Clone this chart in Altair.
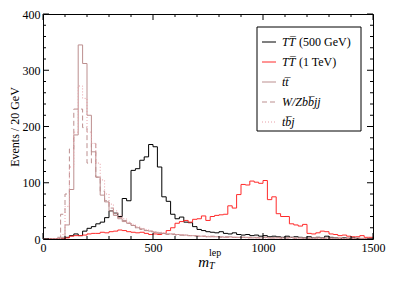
import altair as alt
import pandas as pd

# ---- data (20 GeV bins, left edges 0..1480) ----
bin_edges = list(range(0, 1500, 20))

tt500 = [0, 0, 0, 0, 0, 3, 6, 9, 6, 14, 19, 22, 27, 30, 38,
         50, 46, 40, 72, 68, 122, 125, 140, 146, 168, 164, 128, 75, 67, 44,
         36, 39, 30, 29, 22, 17, 15, 13, 12, 11, 13, 10, 9, 11, 8,
         7, 8, 6, 7, 5, 6, 4, 5, 4, 3, 5, 3, 4, 3, 2,
         4, 2, 3, 2, 5, 3, 2, 1, 2, 1, 2, 1, 1, 1, 1]

tt1tev = [0, 0, 0, 0, 0, 2, 5, 6, 6, 7, 9, 10, 10, 12, 11,
          13, 14, 16, 15, 13, 12, 11, 12, 10, 8, 9, 8, 10, 15, 20,
          28, 31, 33, 30, 35, 36, 41, 33, 40, 42, 43, 44, 59, 55, 79,
          97, 96, 103, 101, 99, 104, 70, 75, 45, 40, 40, 27, 25, 23, 26,
          10, 9, 11, 14, 13, 9, 8, 6, 7, 5, 4, 4, 6, 3, 3]

ttbar = [0, 0, 0, 0, 3, 25, 88, 185, 345, 312, 220, 155, 110, 78, 66,
         50, 42, 36, 31, 28, 24, 20, 18, 15, 14, 12, 11, 10, 9, 9,
         8, 7, 7, 6, 6, 5, 5, 4, 5, 4, 4, 3, 4, 3, 3,
         3, 3, 2, 3, 2, 3, 2, 2, 3, 2, 2, 3, 2, 2, 2,
         2, 2, 3, 2, 2, 1, 2, 2, 1, 2, 1, 2, 1, 1, 1]

wzbbjj = [0, 0, 0, 3, 44, 80, 160, 231, 231, 198, 135, 170, 110, 85, 68,
          55, 45, 38, 33, 28, 24, 20, 17, 15, 13, 12, 10, 9, 8, 8,
          7, 7, 6, 6, 5, 5, 5, 4, 4, 4, 3, 4, 3, 3, 3,
          3, 2, 3, 2, 2, 3, 2, 2, 2, 1, 2, 2, 1, 2, 1,
          1, 2, 1, 1, 1, 2, 1, 1, 1, 1, 1, 0, 1, 1, 0]

tbj = [0, 0, 0, 0, 8, 58, 128, 190, 272, 250, 190, 170, 135, 105, 80,
       62, 50, 42, 36, 30, 26, 22, 19, 17, 15, 13, 12, 11, 10, 9,
       8, 8, 7, 6, 6, 5, 5, 5, 4, 4, 4, 3, 3, 3, 3,
       3, 2, 3, 2, 2, 2, 2, 2, 1, 2, 1, 2, 1, 1, 1,
       1, 1, 1, 1, 1, 1, 0, 1, 1, 0, 1, 0, 0, 1, 0]

x_major = [0, 500, 1000, 1500]
x_minor = [v for v in range(0, 1501, 100) if v % 500]
y_major = [0, 100, 200, 300, 400]
y_minor = [v for v in range(0, 401, 20) if v % 100]

legend_italic = ["TT\u0305", "TT\u0305", "tt\u0305", "W/Zbb\u0305jj", "tb\u0305j"]
legend_roman = ["(500 GeV)", "(1 TeV)", "", "", ""]

# ---- styles ----
W, H = 330, 225
FONT = "Liberation Serif"
BROWN = "#bc8f8f"
series_style = [
    (tt500, "#000000", None),
    (tt1tev, "#ff2a2a", None),
    (ttbar, BROWN, None),
    (wzbbjj, BROWN, [5, 3]),
    (tbj, "#e8a0a8", [1, 2]),
]

xs = alt.Scale(domain=[0, 1500], nice=False, zero=False)
ys = alt.Scale(domain=[0, 400], nice=False, zero=False)
xaxis = alt.Axis(values=x_major, ticks=False, tickSize=0, domain=False, grid=False,
                 labelPadding=3, title=None, labelFlush=False, format="d")
yaxis = alt.Axis(values=y_major, ticks=False, tickSize=0, domain=False, grid=False,
                 labelPadding=3, title="Events / 20 GeV", titlePadding=1,
                 titleFontWeight="normal", format="d")


def xenc(f):
    return alt.X(f"{f}:Q", scale=xs, axis=xaxis)


def yenc(f):
    return alt.Y(f"{f}:Q", scale=ys, axis=yaxis)


layers = []
for vals, color, dash in series_style:
    df = pd.DataFrame({"m": bin_edges + [1500], "n": vals + [vals[-1]]})
    kw = dict(interpolate="step-after", color=color, strokeWidth=1, clip=True)
    if dash:
        kw["strokeDash"] = dash
    layers.append(alt.Chart(df).mark_line(**kw).encode(x=xenc("m"), y=yenc("n")))

# inward ticks on all four sides
for vals, L in [(x_major, 6), (x_minor, 3)]:
    d = pd.DataFrame({"v": vals})
    layers.append(alt.Chart(d).mark_rule(color="black", strokeWidth=1).encode(
        x=xenc("v"), y=alt.value(H), y2=alt.value(H - L)))
    layers.append(alt.Chart(d).mark_rule(color="black", strokeWidth=1).encode(
        x=xenc("v"), y=alt.value(0), y2=alt.value(L)))
for vals, L in [(y_major, 6), (y_minor, 3)]:
    d = pd.DataFrame({"v": vals})
    layers.append(alt.Chart(d).mark_rule(color="black", strokeWidth=1).encode(
        y=yenc("v"), x=alt.value(0), x2=alt.value(L)))
    layers.append(alt.Chart(d).mark_rule(color="black", strokeWidth=1).encode(
        y=yenc("v"), x=alt.value(W - L), x2=alt.value(W)))

# legend box
one = pd.DataFrame({"k": [0]})
BX0, BX1, BY0, BY1 = 214, 318, 13, 117
layers.append(alt.Chart(one).mark_rect(fill="white", stroke="black", strokeWidth=1).encode(
    x=alt.value(BX0), x2=alt.value(BX1), y=alt.value(BY0), y2=alt.value(BY1)))
for i, (vals, color, dash) in enumerate(series_style):
    ry = 28 + 20 * i
    kw = dict(color=color, strokeWidth=1)
    if dash:
        kw["strokeDash"] = dash
    layers.append(alt.Chart(one).mark_rule(**kw).encode(
        x=alt.value(BX0 + 5), x2=alt.value(BX0 + 19), y=alt.value(ry)))
    layers.append(alt.Chart(one).mark_text(
        text=legend_italic[i], font=FONT, fontSize=12, fontStyle="italic",
        align="left", baseline="middle", color="black").encode(
        x=alt.value(BX0 + 25), y=alt.value(ry)))
    if legend_roman[i]:
        layers.append(alt.Chart(one).mark_text(
            text=legend_roman[i], font=FONT, fontSize=12,
            align="left", baseline="middle", color="black").encode(
            x=alt.value(BX0 + 25 + 17), y=alt.value(ry)))

# x axis title  m_T^lep
layers.append(alt.Chart(one).mark_text(text="m", font=FONT, fontSize=15, fontStyle="italic",
                                       align="right", baseline="alphabetic", color="black").encode(
    x=alt.value(W / 2 + 1), y=alt.value(H + 28)))
layers.append(alt.Chart(one).mark_text(text="T", font=FONT, fontSize=10, fontStyle="italic",
                                       align="left", baseline="alphabetic", color="black").encode(
    x=alt.value(W / 2 + 1), y=alt.value(H + 30)))
layers.append(alt.Chart(one).mark_text(text="lep", font=FONT, fontSize=10,
                                       align="left", baseline="alphabetic", color="black").encode(
    x=alt.value(W / 2 + 1), y=alt.value(H + 17)))

chart = alt.layer(*layers).properties(
    width=W, height=H,
    autosize=alt.AutoSizeParams(type="none"),
    padding={"left": 35, "top": 6, "right": 13, "bottom": 33},
).configure_view(stroke="black", strokeWidth=1).configure_axis(
    labelFont=FONT, titleFont=FONT, labelFontSize=12, titleFontSize=12,
    labelColor="black", titleColor="black")

chart.save("out.html", embed_options={"renderer": "svg", "actions": False})
